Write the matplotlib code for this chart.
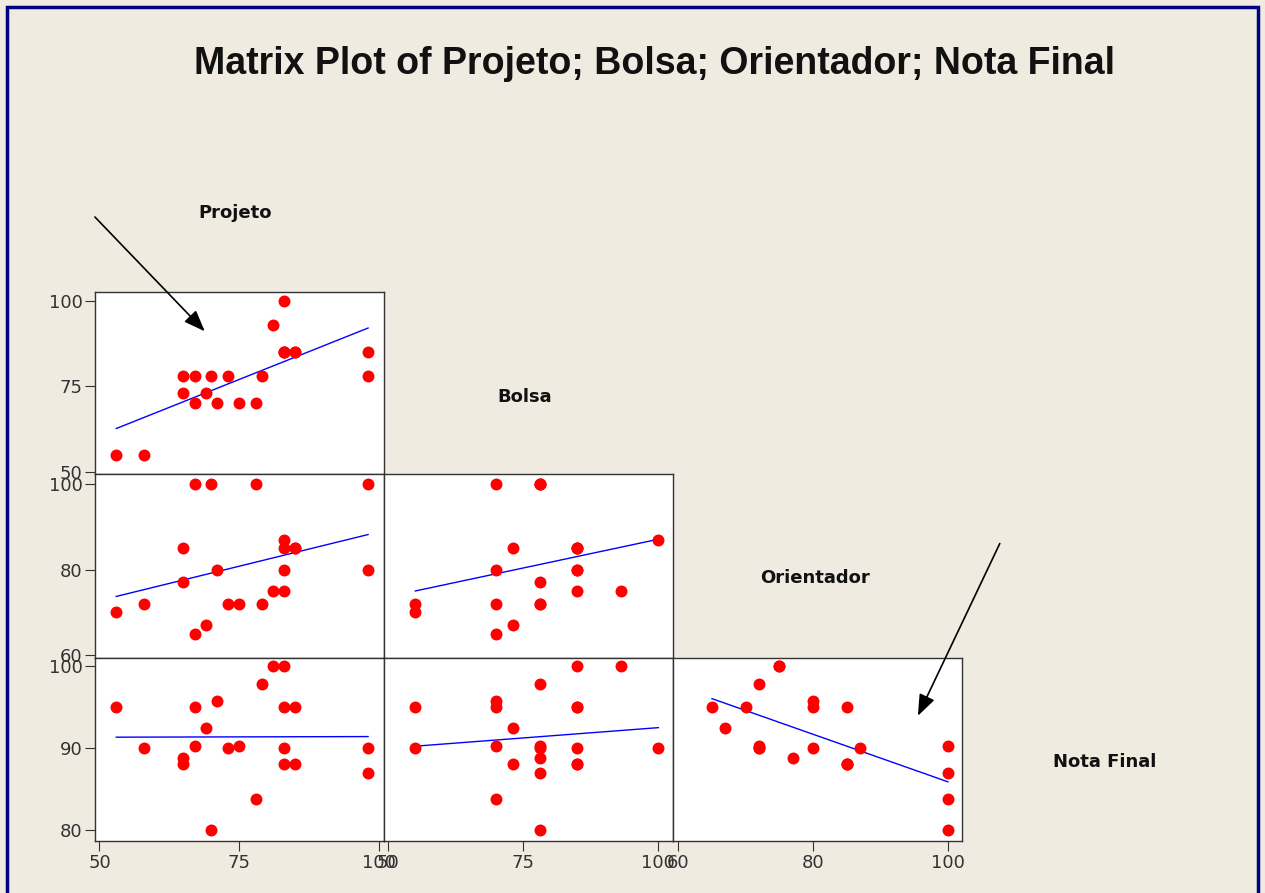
import numpy as np
import matplotlib
matplotlib.use('Agg')
import matplotlib.pyplot as plt
from matplotlib.patches import Rectangle, FancyArrowPatch

# one entry per student
projeto = np.array([53, 58, 65, 65, 67, 67, 69, 70, 71, 73, 75, 78, 79, 81,
                    83, 83, 83, 83, 85, 85, 98, 98])
bolsa = np.array([55, 55, 73, 78, 78, 70, 73, 78, 70, 78, 70, 70, 78, 93,
                  100, 85, 85, 85, 85, 85, 85, 78])
orientador = np.array([70, 72, 85, 77, 100, 65, 67, 100, 80, 72, 72, 100, 72, 75,
                       87, 85, 80, 75, 85, 85, 80, 100])
nota_final = np.array([95, 90, 88, 88.8, 90.2, 95, 92.4, 80, 95.8, 90, 90.2, 83.8, 97.8, 100,
                       90, 88, 95, 100, 95, 88, 90, 87])

names = ['Projeto', 'Bolsa', 'Orientador', 'Nota Final']
data = [projeto, bolsa, orientador, nota_final]
ticks = [[50, 75, 100], [50, 75, 100], [60, 80, 100], [80, 90, 100]]
xlims = [(49.2, 100.9), (49.26, 102.76), (59.26, 102.1)]
ylims = [(49.24, 102.7), (59.37, 102.34), (78.65, 101.03)]

W, H = 1265, 893
bg = '#EFEBE1'
fig = plt.figure(figsize=(W / 100, H / 100), dpi=100, facecolor=bg)

def px_box(l, t, r, b):
    return [l / W, 1 - b / H, (r - l) / W, (b - t) / H]

col_edges = [95, 384.3, 673.3, 962]
row_edges = [291.7, 474.3, 657.7, 841]

for i in range(3):          # row: y variable = names[i+1]
    for j in range(i + 1):  # col: x variable = names[j]
        ax = fig.add_axes(px_box(col_edges[j], row_edges[i],
                                 col_edges[j + 1], row_edges[i + 1]))
        x = data[j]
        y = data[i + 1]
        k, c = np.polyfit(x, y, 1)
        xl = np.array([x.min(), x.max()])
        ax.plot(xl, k * xl + c, color='#0000FF', lw=1.0, zorder=2)
        ax.plot(x, y, 'o', color='#FF0000', ms=8.6, mec='none', zorder=3)
        ax.set_xlim(xlims[j])
        ax.set_ylim(ylims[i])
        ax.set_facecolor('white')
        for s in ax.spines.values():
            s.set_color('#333333')
            s.set_linewidth(1.0)
        ax.tick_params(direction='out', length=7, width=0.8, color='#333333',
                       labelsize=13, labelcolor='#333333', pad=2)
        if j == 0:
            ax.set_yticks(ticks[i + 1])
        else:
            ax.set_yticks([])
        if i == 2:
            ax.set_xticks(ticks[j])
        else:
            ax.set_xticks([])

# diagonal labels
label_pos = [(235.5, 218), (525, 402), (815, 583), (1105, 767)]
for name, (lx, ly) in zip(names, label_pos):
    fig.text(lx / W, 1 - ly / H, name, ha='center', va='baseline',
             fontsize=13, fontweight='bold', color='#111111')

fig.text(654 / W, 1 - 74 / H, 'Matrix Plot of Projeto; Bolsa; Orientador; Nota Final',
         ha='center', va='baseline', fontsize=27, fontweight='bold',
         family=['Liberation Sans', 'DejaVu Sans'], color='#111111')

# arrows
for (x0, y0), (x1, y1) in [((93, 215), (206.7, 333.3)), ((1001, 541), (916.7, 718.3))]:
    fig.add_artist(FancyArrowPatch((x0 / W, 1 - y0 / H), (x1 / W, 1 - y1 / H),
                                   transform=fig.transFigure,
                                   arrowstyle='-|>,head_length=1.3,head_width=0.5',
                                   mutation_scale=10, lw=1.2, color='black'))

# window border
fig.add_artist(Rectangle((7 / W, -0.02), (1258 - 7) / W, 1 - 7 / H + 0.02,
                         transform=fig.transFigure, fill=False,
                         ec='#000080', lw=2.5))

plt.savefig('out.png', dpi=100, facecolor=bg)
